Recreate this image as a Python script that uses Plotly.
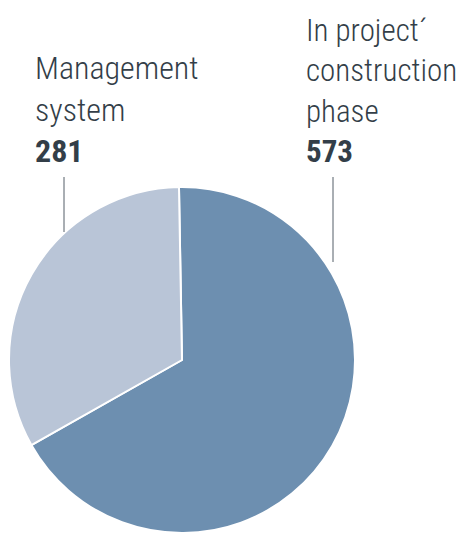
import plotly.graph_objects as go

labels = ["In project´ construction phase", "Management system"]
values = [573, 281]
colors = ["#6d8fb0", "#b9c5d7"]
label_texts = ["In project´<br>construction<br>phase<br><b>573</b>",
               "Management<br>system<br><b>281</b>"]

W, H = 465, 534
OFF = 8  # page body margin in the browser
FONT = "Roboto Condensed, Liberation Sans Narrow, Roboto, sans-serif"
TEXT_COLOR = "#333e48"


def px(x):
    return (x - OFF) / W


def py(y):
    return 1 - (y - OFF) / H


# pie placement (pixels in the screenshot)
cx, cy, r = 182, 360, 173

fig = go.Figure(go.Pie(
    labels=labels, values=values, sort=False, direction="clockwise", rotation=-1,
    marker=dict(colors=colors, line=dict(color="white", width=2)),
    textinfo="none", hoverinfo="label+value", showlegend=False,
    domain=dict(x=[px(cx - r), px(cx + r)], y=[py(cy + r), py(cy - r)]),
))

fig.add_annotation(x=px(304), y=py(172), xref="paper", yref="paper",
                   xanchor="left", yanchor="bottom", align="left", showarrow=False,
                   text=label_texts[0], font=dict(family=FONT, size=31, color=TEXT_COLOR, weight=300))
fig.add_annotation(x=px(33), y=py(172), xref="paper", yref="paper",
                   xanchor="left", yanchor="bottom", align="left", showarrow=False,
                   text=label_texts[1], font=dict(family=FONT, size=32, color=TEXT_COLOR, weight=300))

# leader lines
fig.add_shape(type="line", xref="paper", yref="paper", x0=px(333), x1=px(333), y0=py(177), y1=py(262),
              line=dict(color="#555f68", width=1))
fig.add_shape(type="line", xref="paper", yref="paper", x0=px(64), x1=px(64), y0=py(177), y1=py(232),
              line=dict(color="#555f68", width=1))

fig.update_layout(width=W, height=H, margin=dict(l=0, r=0, t=0, b=0),
                  paper_bgcolor="white", plot_bgcolor="white")
fig.write_html("out.html")
